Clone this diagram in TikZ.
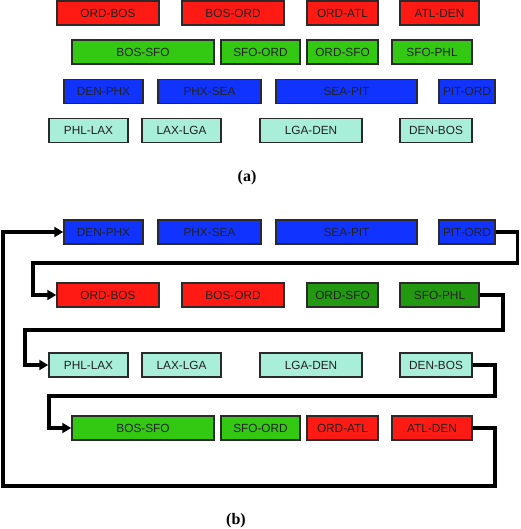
\documentclass[tikz,border=0pt]{standalone}
\usepackage{fontspec}
\setmainfont{Liberation Serif}
\newfontfamily\boxfont{Liberation Sans}
\usetikzlibrary{arrows.meta}
\definecolor{cred}{HTML}{FF1A14}
\definecolor{cgreen}{HTML}{33C812}
\definecolor{cdgreen}{HTML}{229911}
\definecolor{cblue}{HTML}{1133FF}
\definecolor{ccyan}{HTML}{A8EED8}
\definecolor{cborder}{HTML}{2A2A2A}
\definecolor{ctext}{HTML}{222222}
\tikzset{
  fbox/.style={draw=cborder, line width=1.5pt, rectangle, inner sep=0pt, minimum height=24pt,
    font=\boxfont\fontsize{11.8}{12}\selectfont, text=ctext},
  conn/.style={line width=3.2pt, line join=miter, -{Triangle[length=9pt,width=10pt]}},
  captxt/.style={font=\bfseries\fontsize{16}{16}\selectfont}
}
\newcommand\fl[6]{\node[fbox, fill=#1, minimum width={#4-#3}] (#2) at ({(#3+#4)/2},#5) {#6};}
\begin{document}
\begin{tikzpicture}[x=1pt,y=-1pt]
\useasboundingbox (0,0) rectangle (520,529);
% (a)
\fl{cred}{a11}{57}{159}{13}{ORD-BOS}
\fl{cred}{a12}{182}{284}{13}{BOS-ORD}
\fl{cred}{a13}{307}{378}{13}{ORD-ATL}
\fl{cred}{a14}{400}{479}{13}{ATL-DEN}
\fl{cgreen}{a21}{72}{214}{52}{BOS-SFO}
\fl{cgreen}{a22}{221}{300}{52}{SFO-ORD}
\fl{cgreen}{a23}{307}{378}{52}{ORD-SFO}
\fl{cgreen}{a24}{392}{472}{52}{SFO-PHL}
\fl{cblue}{a31}{64}{143}{91.5}{DEN-PHX}
\fl{cblue}{a32}{158}{261}{91.5}{PHX-SEA}
\fl{cblue}{a33}{276}{417}{91.5}{SEA-PIT}
\fl{cblue}{a34}{439}{495}{91.5}{PIT-ORD}
\fl{ccyan}{a41}{49}{128}{130.5}{PHL-LAX}
\fl{ccyan}{a42}{142}{221}{130.5}{LAX-LGA}
\fl{ccyan}{a43}{260}{362}{130.5}{LGA-DEN}
\fl{ccyan}{a44}{400}{472}{130.5}{DEN-BOS}
\node[captxt] (capa) at (247,178) {(a)};
% (b)
\fl{cblue}{b11}{64}{143}{232}{DEN-PHX}
\fl{cblue}{b12}{158}{261}{232}{PHX-SEA}
\fl{cblue}{b13}{276}{417}{232}{SEA-PIT}
\fl{cblue}{b14}{439}{495}{232}{PIT-ORD}
\fl{cred}{b21}{57}{159}{295}{ORD-BOS}
\fl{cred}{b22}{182}{284}{295}{BOS-ORD}
\fl{cdgreen}{b23}{307}{378}{295}{ORD-SFO}
\fl{cdgreen}{b24}{400}{479}{295}{SFO-PHL}
\fl{ccyan}{b31}{49}{128}{365}{PHL-LAX}
\fl{ccyan}{b32}{142}{221}{365}{LAX-LGA}
\fl{ccyan}{b33}{260}{362}{365}{LGA-DEN}
\fl{ccyan}{b34}{400}{472}{365}{DEN-BOS}
\fl{cgreen}{b41}{72}{214}{428}{BOS-SFO}
\fl{cgreen}{b42}{221}{300}{428}{SFO-ORD}
\fl{cred}{b43}{307}{378}{428}{ORD-ATL}
\fl{cred}{b44}{392}{472}{428}{ATL-DEN}
\node[captxt] (capb) at (236,521) {(b)};
% connectors
\coordinate (r1) at (517.5,263);
\coordinate (l1) at (33,263);
\coordinate (r2) at (503,330);
\coordinate (l2) at (25,330);
\coordinate (r3) at (495,396);
\coordinate (l3) at (49,396);
\coordinate (r4) at (495,486);
\coordinate (l4) at (3,486);
\draw[conn] (b14.east) -| (r1) -- (l1) |- (b21.west);
\draw[conn] (b24.east) -| (r2) -- (l2) |- (b31.west);
\draw[conn] (b34.east) -| (r3) -- (l3) |- (b41.west);
\draw[conn] (b44.east) -| (r4) -- (l4) |- (b11.west);
\end{tikzpicture}
\end{document}
